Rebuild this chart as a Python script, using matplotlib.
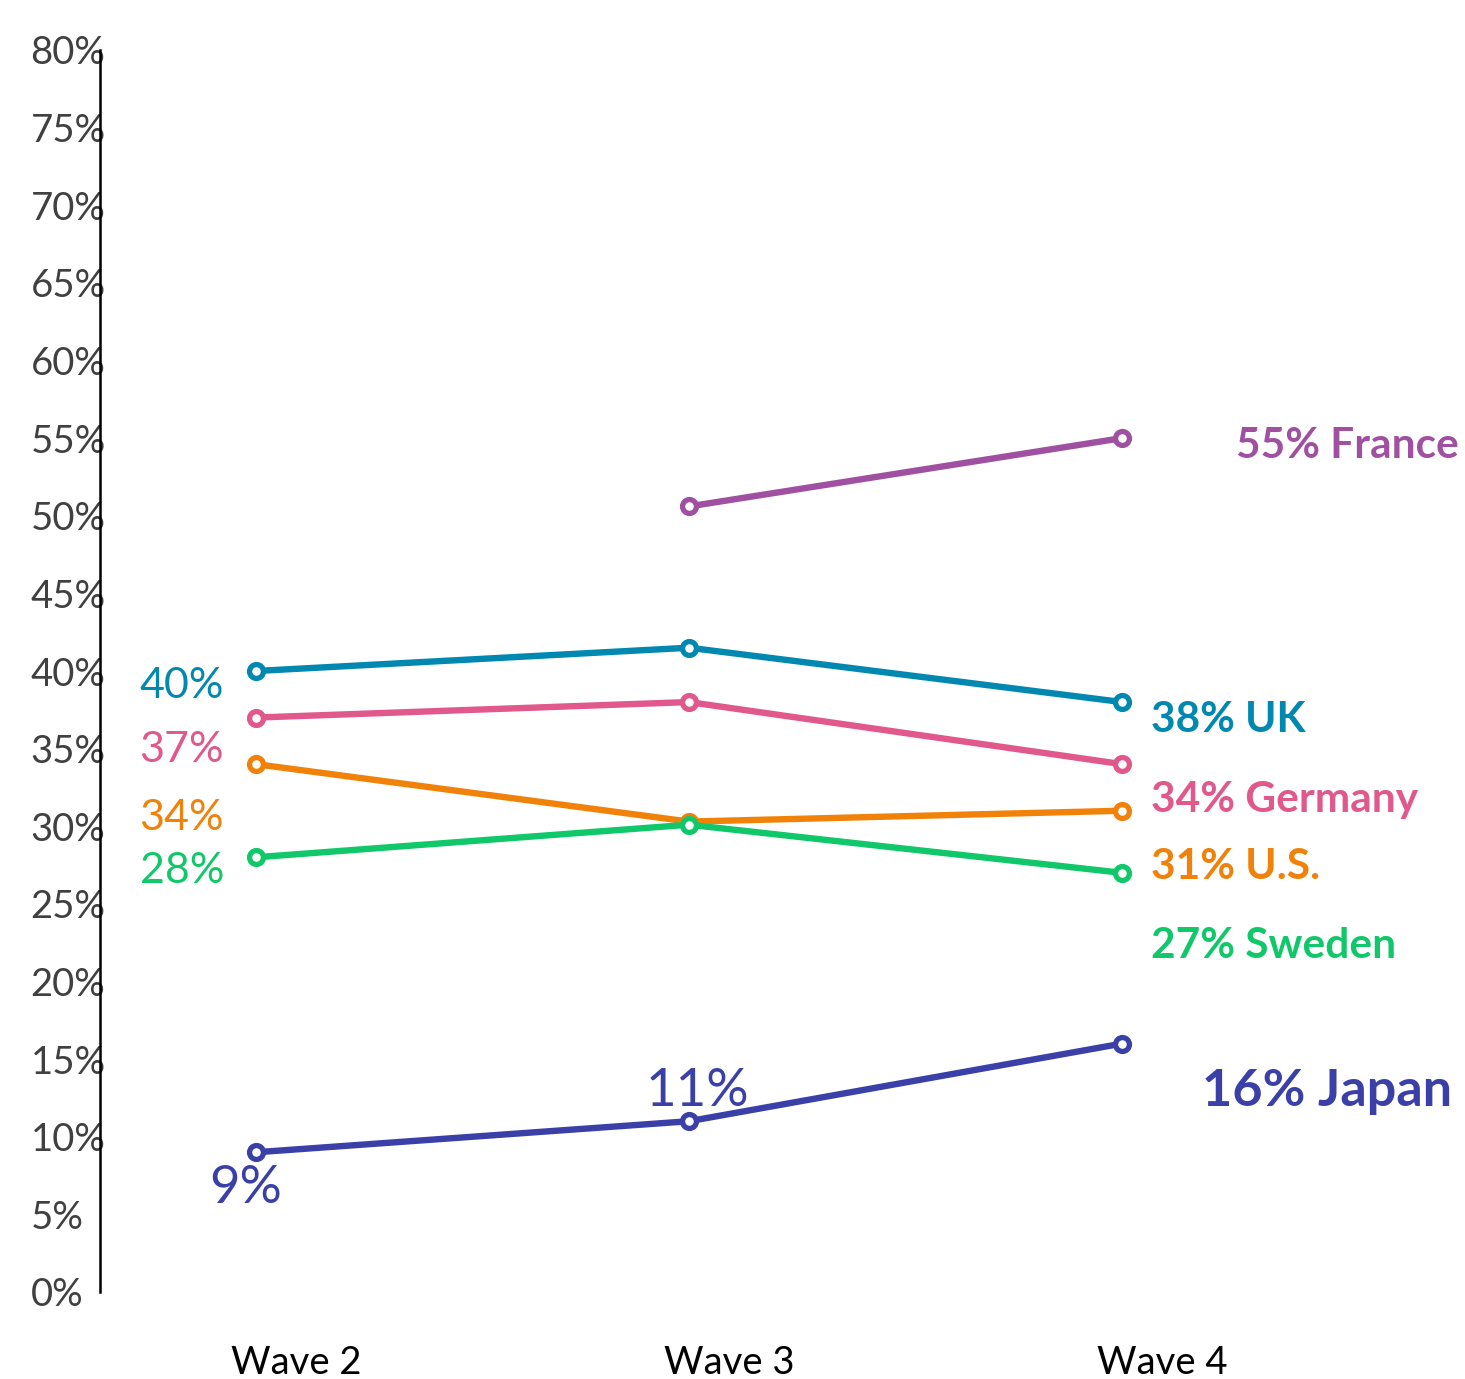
import numpy as np
import matplotlib.pyplot as plt
from matplotlib.transforms import ScaledTranslation

plt.rcParams['font.family'] = ['Lato', 'DejaVu Sans']

waves = ["Wave 2", "Wave 3", "Wave 4"]
tick_values = list(range(0, 81, 5))

france = [np.nan, 50.6, 55]
uk = [40, 41.5, 38]
germany = [37, 38, 34]
us = [34, 30.3, 31]
sweden = [28, 30.1, 27]
japan = [9, 11, 16]

colors = {
    "France": "#A050A0",
    "UK": "#0088B0",
    "Germany": "#E0588C",
    "U.S.": "#F0820A",
    "Sweden": "#10C86A",
    "Japan": "#3A40A8",
}
series = {
    "France": france,
    "UK": uk,
    "Germany": germany,
    "U.S.": us,
    "Sweden": sweden,
    "Japan": japan,
}

fig = plt.figure(figsize=(14.65, 13.79), dpi=100)
ax = fig.add_axes([100 / 1465, 87 / 1379, 1365 / 1465, 1242 / 1379])

x = np.arange(len(waves))
for name, vals in series.items():
    ax.plot(x, vals, color=colors[name], lw=4.6, marker='o', ms=10,
            mfc='white', mec=colors[name], mew=3.8, zorder=3)

ax.set_xlim(-0.36, 2.792)
ax.set_ylim(0, 80)

# start-of-series labels (Wave 2), right aligned left of the first point
left_labels = [
    ("UK", 0, -15),
    ("Germany", 0, -32),
    ("U.S.", 0, -54),
    ("Sweden", 0, -14),
]
for name, i, dy in left_labels:
    v = series[name][i]
    ax.annotate(f"{v:.0f}%", (i, v), xytext=(-32, dy), textcoords='offset pixels',
                ha='right', va='center', fontsize=31, color=colors[name])

# Japan gets larger labels at Wave 2 and Wave 3
ax.annotate(f"{japan[0]}%", (0, japan[0]), xytext=(-10, -36), textcoords='offset pixels',
            ha='center', va='center', fontsize=38, color=colors["Japan"])
ax.annotate(f"{japan[1]}%", (1, japan[1]), xytext=(8, 30), textcoords='offset pixels',
            ha='center', va='center', fontsize=38, color=colors["Japan"])

# end-of-series labels (Wave 4)
right_labels = [
    ("France", 114, -8, 30.5),
    ("UK", 29, -18, 30.5),
    ("Germany", 29, -36, 30.5),
    ("U.S.", 29, -56, 30.5),
    ("Sweden", 29, -73, 30.5),
    ("Japan", 80, -48, 37.5),
]
for name, dx, dy, size in right_labels:
    v = series[name][2]
    ax.annotate(f"{v:.0f}% {name}", (2, v), xytext=(dx, dy), textcoords='offset pixels',
                ha='left', va='center', fontsize=size, fontweight='bold',
                color=colors[name])

for side in ["top", "right", "bottom"]:
    ax.spines[side].set_visible(False)
ax.spines['left'].set_linewidth(1.8)
ax.spines['left'].set_color('black')

ax.set_yticks(tick_values)
ax.set_yticklabels([f"{t}%" for t in tick_values])
ax.tick_params(axis='y', length=0, pad=50, labelsize=27.5, labelcolor='#404040')
for lbl in ax.get_yticklabels():
    lbl.set_horizontalalignment('left')

ax.set_xticks(x)
ax.set_xticklabels(waves)
ax.tick_params(axis='x', length=0, pad=38, labelsize=27.5, labelcolor='black')
shift = ScaledTranslation(40 / 100, 0, fig.dpi_scale_trans)
for lbl in ax.get_xticklabels():
    lbl.set_transform(lbl.get_transform() + shift)

fig.savefig("out.png", dpi=100)
